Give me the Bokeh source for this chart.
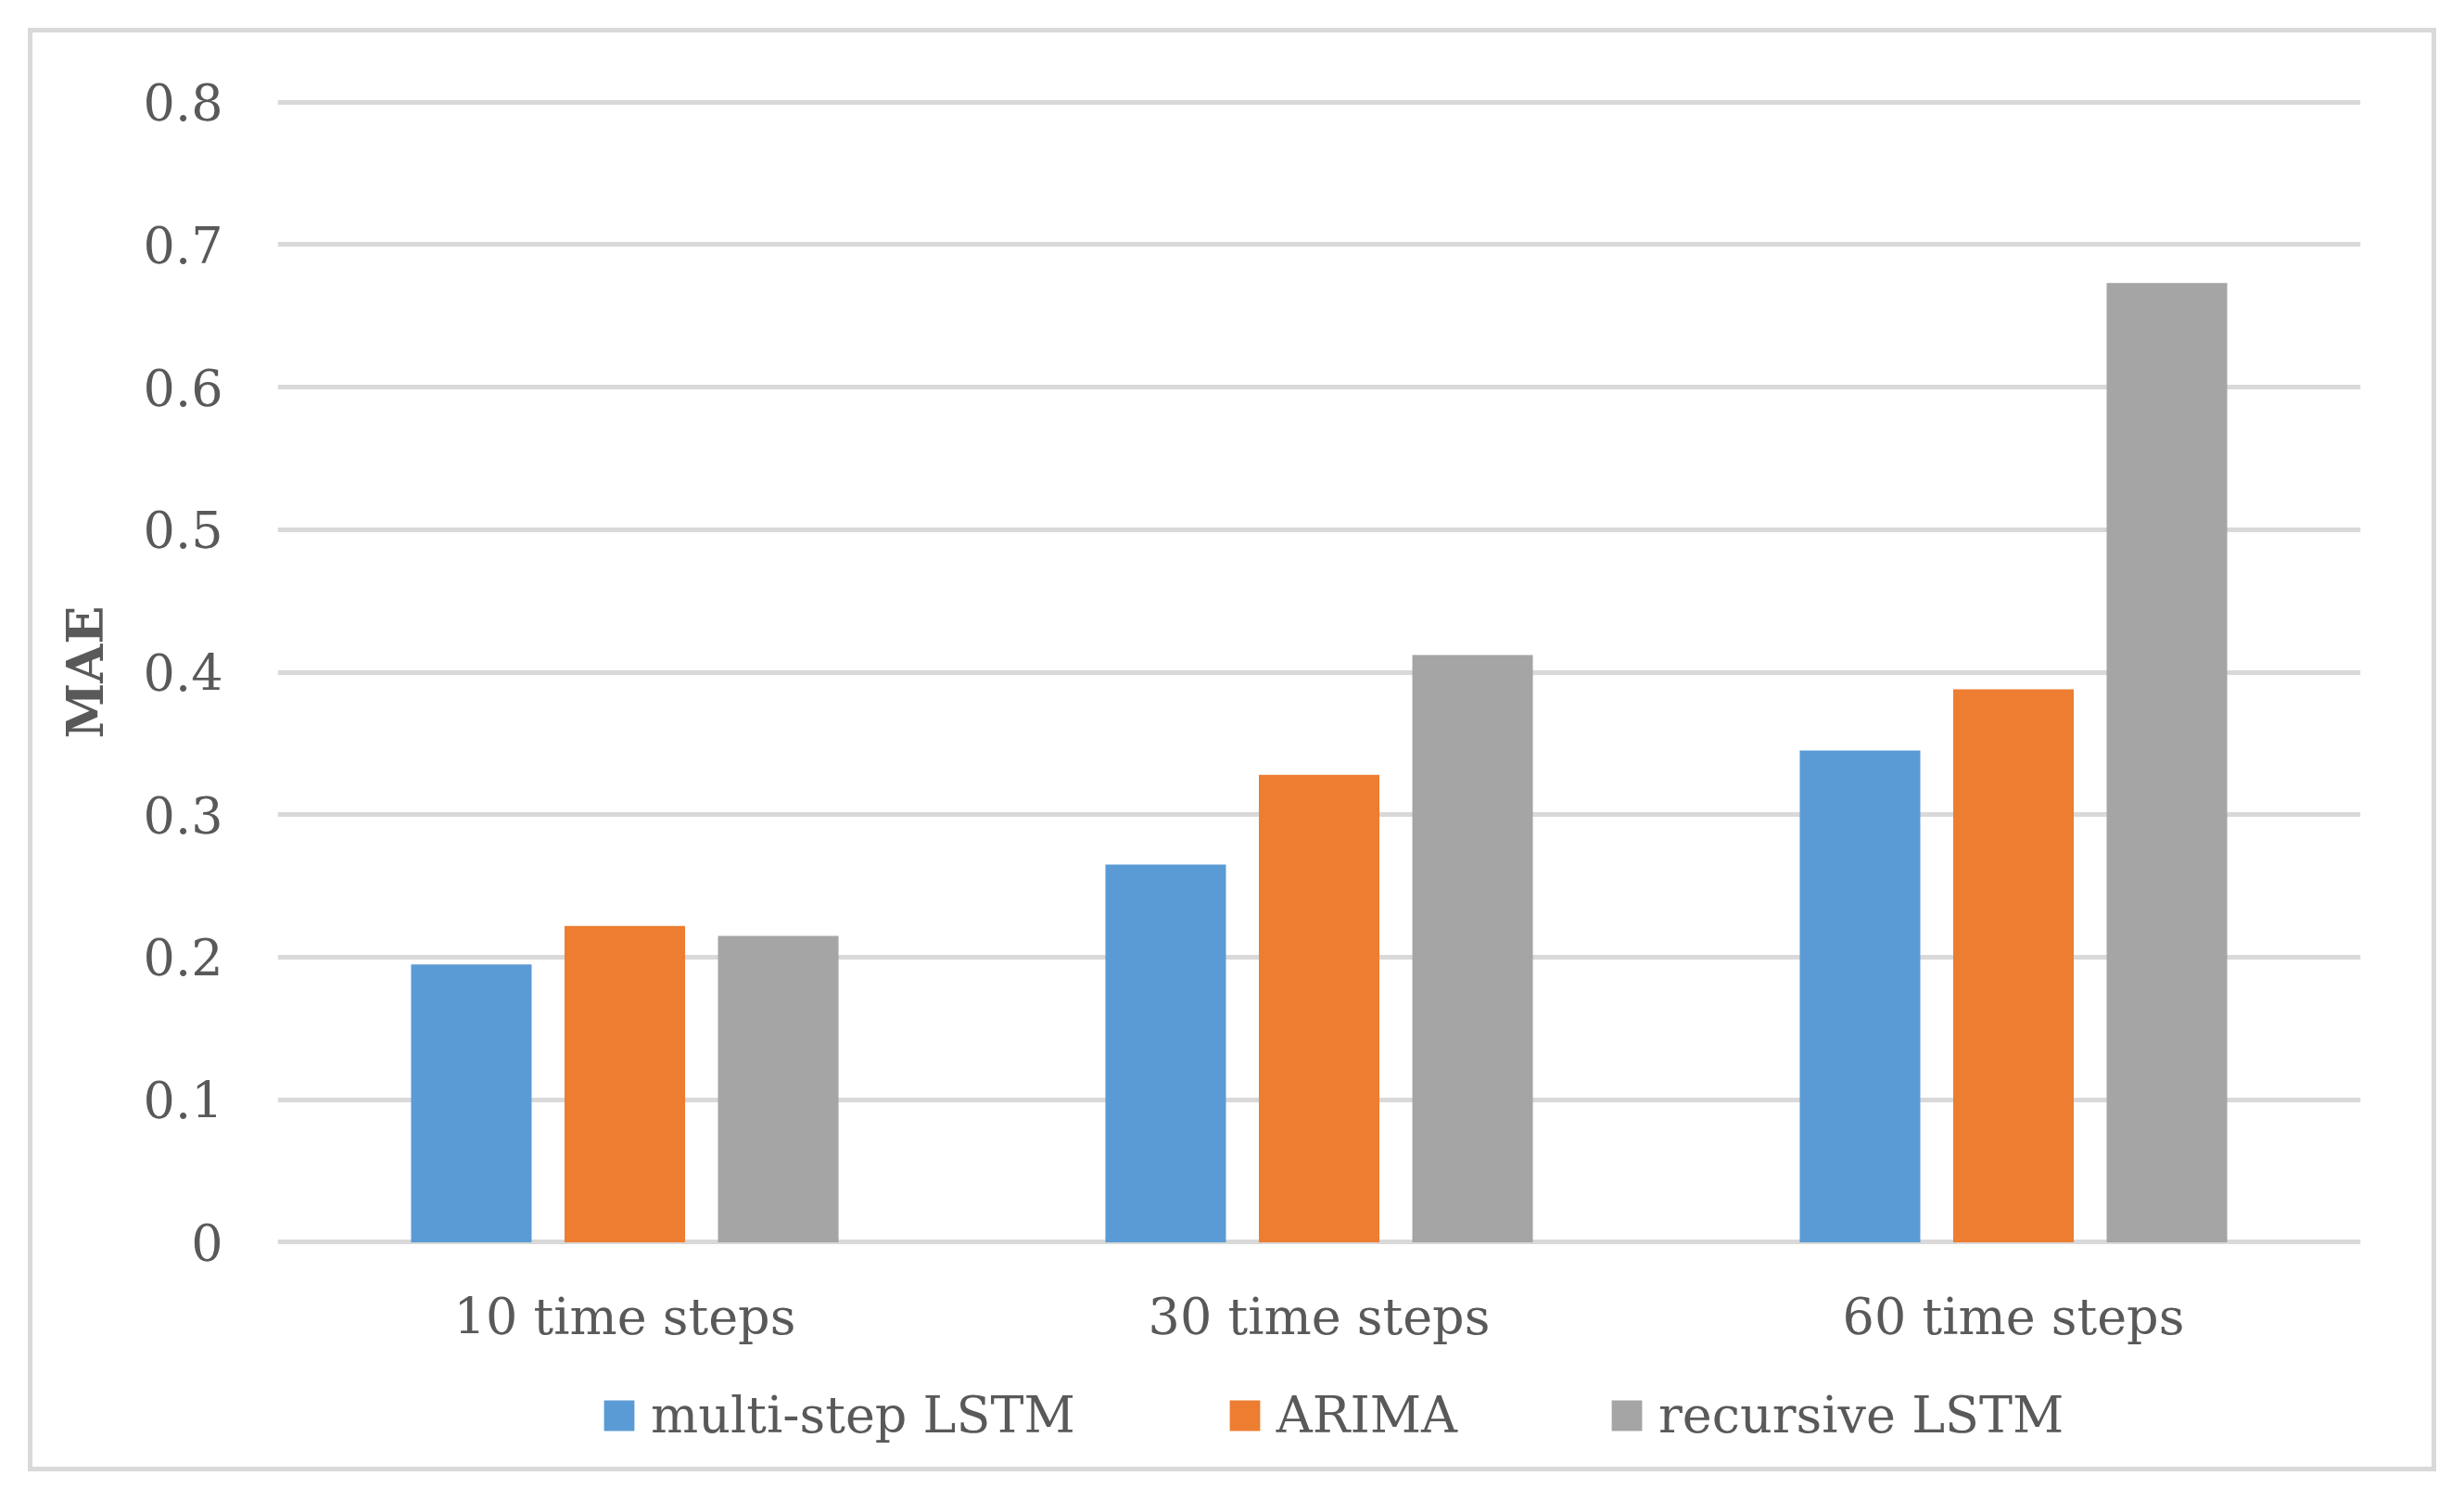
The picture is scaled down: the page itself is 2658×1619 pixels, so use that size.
from bokeh.plotting import figure
from bokeh.layouts import column
from bokeh.models import (ColumnDataSource, FactorRange, Range1d, FixedTicker,
                          CustomJSTickFormatter, Legend, LegendItem)
from bokeh.transform import dodge
from bokeh.embed import file_html
from bokeh.resources import INLINE

categories = ["10 time steps", "30 time steps", "60 time steps"]
series_names = ["multi-step LSTM", "ARIMA", "recursive LSTM"]
multi_step_lstm = [0.195, 0.265, 0.345]
arima = [0.222, 0.328, 0.388]
recursive_lstm = [0.215, 0.412, 0.673]
series_colors = ["#5B9BD5", "#ED7D31", "#A5A5A5"]
y_ticks = [0.0, 0.1, 0.2, 0.3, 0.4, 0.5, 0.6, 0.7, 0.8]
y_label = "MAE"

FONT = "DejaVu Serif"
TEXT = "#595959"
GRID = "#D9D9D9"
FS = "54px"

source = ColumnDataSource(dict(cat=categories, s0=multi_step_lstm,
                               s1=arima, s2=recursive_lstm))

# ---- main chart ----
p = figure(x_range=FactorRange(*categories), y_range=Range1d(-0.003, 0.803),
           width=2642, height=1460, output_backend="svg", toolbar_location=None,
           min_border_left=299, min_border_right=96, min_border_top=105,
           min_border_bottom=116)
p.background_fill_alpha = 0
p.border_fill_alpha = 0
p.outline_line_color = None

offsets = [-0.221, 0.0, 0.221]
renderers = []
for i, (col, color) in enumerate(zip(["s0", "s1", "s2"], series_colors)):
    r = p.vbar(x=dodge("cat", offsets[i], range=p.x_range), top=col, bottom=0,
               width=0.1736, source=source, fill_color=color, line_color=None)
    renderers.append(r)

p.xaxis.axis_line_color = None
p.xaxis.major_tick_line_color = None
p.xaxis.minor_tick_line_color = None
p.xaxis.major_tick_out = 0
p.xaxis.major_tick_in = 0
p.xaxis.major_label_text_font = FONT
p.xaxis.major_label_text_font_size = FS
p.xaxis.major_label_text_color = TEXT
p.xaxis.major_label_standoff = 44
p.xgrid.visible = False

p.yaxis.ticker = FixedTicker(ticks=y_ticks)
p.yaxis.formatter = CustomJSTickFormatter(code="return tick == 0 ? '0' : tick.toFixed(1);")
p.yaxis.axis_line_color = None
p.yaxis.major_tick_line_color = None
p.yaxis.minor_tick_line_color = None
p.yaxis.major_tick_out = 0
p.yaxis.major_tick_in = 0
p.yaxis.minor_tick_out = 0
p.yaxis.major_label_text_font = FONT
p.yaxis.major_label_text_font_size = FS
p.yaxis.major_label_text_color = TEXT
p.yaxis.major_label_standoff = 59
p.yaxis.axis_label = y_label
p.yaxis.axis_label_text_font = FONT
p.yaxis.axis_label_text_font_size = FS
p.yaxis.axis_label_text_font_style = "bold"
p.yaxis.axis_label_text_color = TEXT
p.yaxis.axis_label_standoff = 28

p.ygrid.grid_line_color = GRID
p.ygrid.grid_line_width = 5

# ---- legend strip (its frame is aligned with the chart's frame) ----
lg = figure(width=2642, height=140, output_backend="svg", toolbar_location=None,
            x_range=Range1d(0, 1), y_range=Range1d(0, 1),
            x_axis_type=None, y_axis_type=None,
            min_border_left=0, min_border_right=0, min_border_top=0,
            min_border_bottom=0)
lg.background_fill_alpha = 0
lg.border_fill_alpha = 0
lg.outline_line_color = None
lg.grid.visible = False
# zero-size carriers so that the legend has a colour key for each series
key_src = ColumnDataSource(dict(x=[0.5], y=[0.0]))
key_renderers = [lg.vbar(x="x", top="y", bottom="y", width=0.0, source=key_src,
                         fill_color=c, line_color=None)
                 for c in series_colors]

legend = Legend(items=[LegendItem(label=n, renderers=[r])
                       for n, r in zip(series_names, key_renderers)],
                orientation="horizontal", location=(348, 42))
legend.label_text_font = FONT
legend.label_text_font_size = FS
legend.label_text_color = TEXT
legend.glyph_width = 41
legend.glyph_height = 41
legend.label_standoff = 14
legend.spacing = 162
legend.padding = 0
legend.margin = 0
legend.border_line_color = None
legend.background_fill_alpha = 0
lg.add_layout(legend, "center")

layout = column(p, lg, spacing=0)
g = "linear-gradient(#D9D9D9, #D9D9D9)"
layout.styles = {
    "background-color": "white",
    "background-image": ", ".join([g] * 4),
    "background-position": "30px 30px, 30px 1582px, 30px 30px, 2623px 30px",
    "background-size": "2598px 5px, 2598px 5px, 5px 1557px, 5px 1557px",
    "background-repeat": "no-repeat",
}

open("out.html", "w").write(file_html(layout, INLINE))
